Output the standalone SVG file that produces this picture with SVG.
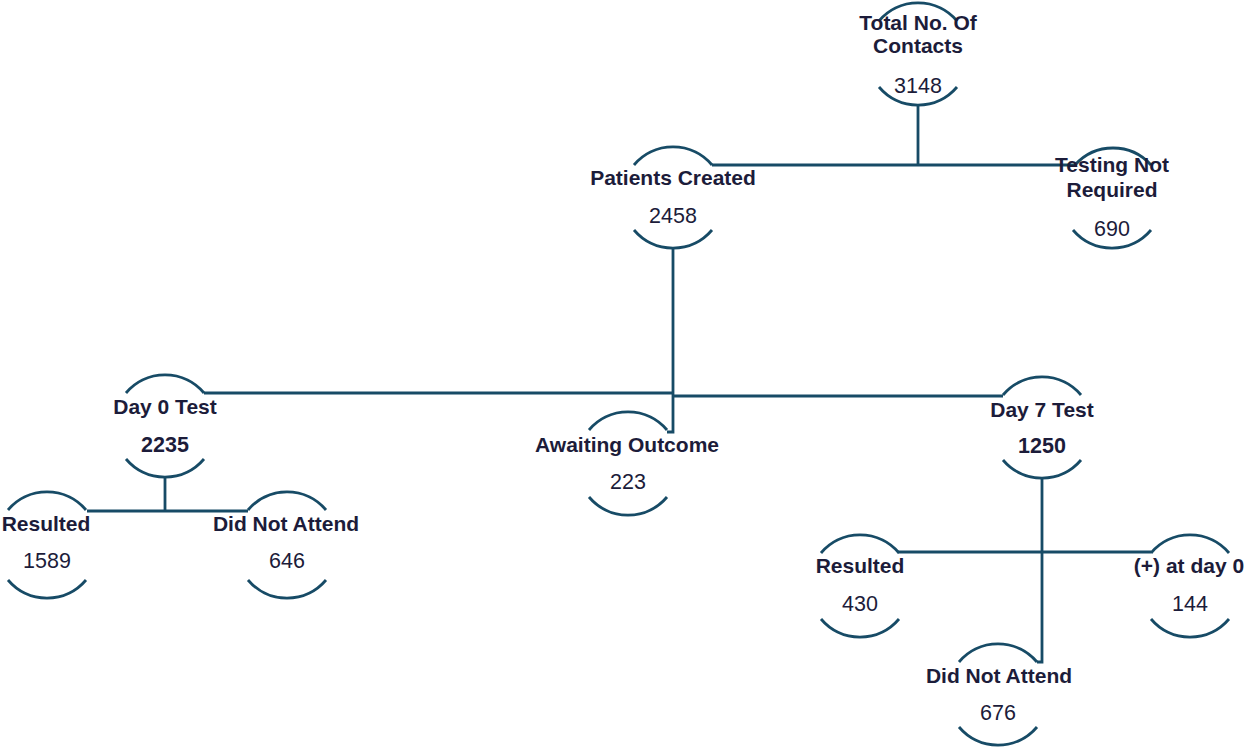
<svg xmlns="http://www.w3.org/2000/svg" width="1247" height="747" viewBox="0 0 1247 747">
<style>
.arc{fill:none;stroke:#174b66;stroke-width:2.8;stroke-linecap:butt}
.con{fill:none;stroke:#174b66;stroke-width:2.8;stroke-linejoin:miter}
.lbl{font-family:"Liberation Sans",Arial,sans-serif;font-weight:bold;font-size:21px;fill:#1c1c3a;text-anchor:middle}
.num{font-family:"Liberation Sans",Arial,sans-serif;font-size:21.5px;fill:#1c1c3a;text-anchor:middle}
.numb{font-family:"Liberation Sans",Arial,sans-serif;font-weight:bold;font-size:21.5px;fill:#1c1c3a;text-anchor:middle}
</style>
<rect width="1247" height="747" fill="#ffffff"/>
<g id="connectors">
<polyline class="con" points="918,105 918,165"/>
<polyline class="con" points="712,165 1077,165"/>
<polyline class="con" points="673,248 673,432 667,432"/>
<polyline class="con" points="204,393 673,393"/>
<polyline class="con" points="673,396 1003,396"/>
<polyline class="con" points="165,477 165,511"/>
<polyline class="con" points="87,511 248,511"/>
<polyline class="con" points="1042,478 1042,662 1037,662"/>
<polyline class="con" points="898,552 1151,552"/>
</g>
<g id="node-total">
<path class="arc" d="M879,21 A51 51 0 0 1 957,21"/>
<path class="arc" d="M879,87 A51 51 0 0 0 957,87"/>
<text class="lbl" x="918" y="30">Total No. Of</text>
<text class="lbl" x="918" y="53">Contacts</text>
<text class="num" x="918" y="93">3148</text>
</g>
<g id="node-patients">
<path class="arc" d="M634,165 A51 51 0 0 1 712,165"/>
<path class="arc" d="M634,230 A51 51 0 0 0 712,230"/>
<text class="lbl" x="673" y="185">Patients Created</text>
<text class="num" x="673" y="223">2458</text>
</g>
<g id="node-testing">
<path class="arc" d="M1075,165 A51 51 0 0 1 1151,165"/>
<path class="arc" d="M1073,230 A51 51 0 0 0 1151,230"/>
<text class="lbl" x="1112" y="172">Testing Not</text>
<text class="lbl" x="1112" y="197">Required</text>
<text class="num" x="1112" y="236">690</text>
</g>
<g id="node-day0">
<path class="arc" d="M126,393 A51 51 0 0 1 204,393"/>
<path class="arc" d="M126,459 A51 51 0 0 0 204,459"/>
<text class="lbl" x="165" y="414">Day 0 Test</text>
<text class="numb" x="165" y="452">2235</text>
</g>
<g id="node-awaiting">
<path class="arc" d="M589,430 A51 51 0 0 1 667,430"/>
<path class="arc" d="M589,497 A51 51 0 0 0 667,497"/>
<text class="lbl" x="627" y="452">Awaiting Outcome</text>
<text class="num" x="628" y="489">223</text>
</g>
<g id="node-day7">
<path class="arc" d="M1003,395 A51 51 0 0 1 1081,395"/>
<path class="arc" d="M1003,460 A51 51 0 0 0 1081,460"/>
<text class="lbl" x="1042" y="417">Day 7 Test</text>
<text class="numb" x="1042" y="453">1250</text>
</g>
<g id="node-resulted-d0">
<path class="arc" d="M8,510 A51 51 0 0 1 86,510"/>
<path class="arc" d="M8,580 A51 51 0 0 0 86,580"/>
<text class="lbl" x="46" y="531">Resulted</text>
<text class="num" x="47" y="568">1589</text>
</g>
<g id="node-dna-d0">
<path class="arc" d="M248,510 A51 51 0 0 1 326,510"/>
<path class="arc" d="M248,580 A51 51 0 0 0 326,580"/>
<text class="lbl" x="286" y="531">Did Not Attend</text>
<text class="num" x="287" y="568">646</text>
</g>
<g id="node-resulted-d7">
<path class="arc" d="M821,553 A51 51 0 0 1 899,553"/>
<path class="arc" d="M821,619 A51 51 0 0 0 899,619"/>
<text class="lbl" x="860" y="573">Resulted</text>
<text class="num" x="860" y="611">430</text>
</g>
<g id="node-positive">
<path class="arc" d="M1151,553 A51 51 0 0 1 1229,553"/>
<path class="arc" d="M1151,619 A51 51 0 0 0 1229,619"/>
<text class="lbl" x="1189" y="573">(+) at day 0</text>
<text class="num" x="1190" y="611">144</text>
</g>
<g id="node-dna-d7">
<path class="arc" d="M959,662 A51 51 0 0 1 1037,662"/>
<path class="arc" d="M959,727 A51 51 0 0 0 1037,727"/>
<text class="lbl" x="999" y="683">Did Not Attend</text>
<text class="num" x="998" y="720">676</text>
</g>
</svg>
